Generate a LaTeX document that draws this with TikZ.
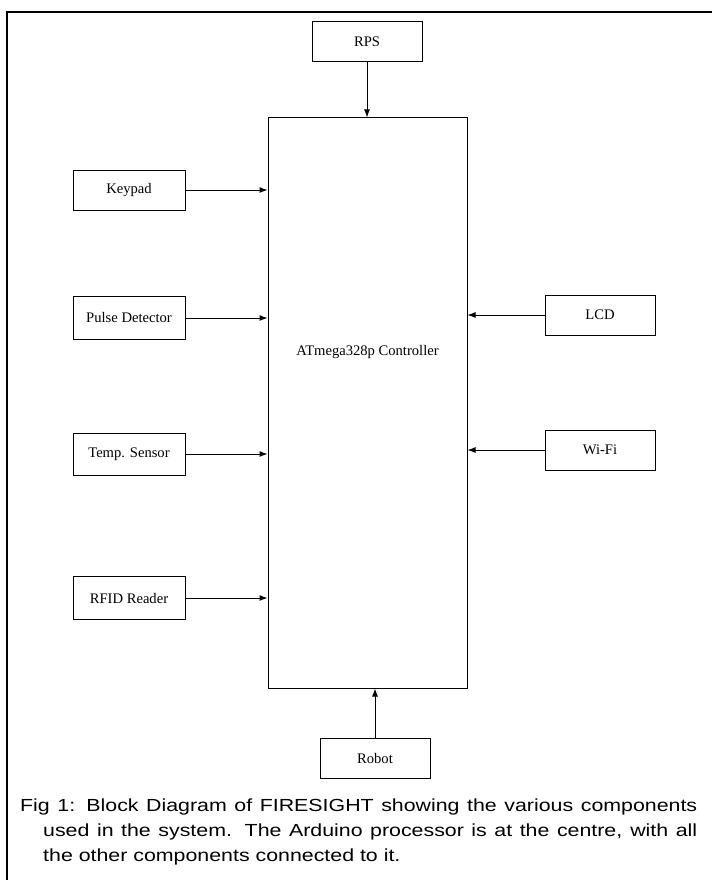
\documentclass[tikz,border=0pt]{standalone}
\usepackage{fontspec}
\setmainfont{Liberation Serif}
\newfontfamily\capfont[FakeStretch=1.22]{Liberation Sans}
\usetikzlibrary{arrows.meta}

\tikzset{
  block/.style={draw, line width=1pt, minimum width=110pt, minimum height=40pt, inner sep=0pt, font=\fontsize{14.6}{16}\selectfont},
  link/.style={-{Latex[length=8pt,width=6pt]}, line width=1pt},
}

\begin{document}
\begin{tikzpicture}[x=1pt, y=-1pt]
\useasboundingbox (0,0) rectangle (712,880);
% frame
\draw[line width=2pt] (7,880) -- (7,12) -- (712,12);

\node[block, minimum width=199pt, minimum height=570pt] (ctl) at (367.5,403){};
\node[font=\fontsize{14.6}{16}\selectfont] (ctltext) at (367.5,352){ATmega328p Controller};

\node[block] (rps) at (367,42){RPS};
\node[block, minimum width=112pt] (key) at (129,190){Keypad};
\node[block, minimum width=112pt, minimum height=43pt] (pulse) at (129,318){Pulse Detector};
\node[block, minimum width=112pt, minimum height=42pt] (temp) at (129,454){Temp. Sensor};
\node[block, minimum width=112pt, minimum height=43pt] (rfid) at (129,598){RFID Reader};
\node[block] (lcd) at (600,315){LCD};
\node[block] (wifi) at (600,450){Wi-Fi};
\node[block] (robot) at (375,758){Robot};

\draw[link] (rps) -- (rps |- ctl.north);
\draw[link] (key) -- (key -| ctl.west);
\draw[link] (pulse) -- (pulse -| ctl.west);
\draw[link] (temp) -- (temp -| ctl.west);
\draw[link] (rfid) -- (rfid -| ctl.west);
\draw[link] (lcd) -- (lcd -| ctl.east);
\draw[link] (wifi) -- (wifi -| ctl.east);
\draw[link] (robot) -- (robot |- ctl.south);

\node[anchor=north west, inner sep=0pt] (cap) at (20,799)
  {\begin{minipage}{677pt}\capfont\fontsize{17.5}{25}\selectfont
  \hangindent=23pt\hangafter=1 Fig 1: Block Diagram of FIRESIGHT showing the various components used in the system. The Arduino processor is at the centre, with all the other components connected to it.\end{minipage}};
\end{tikzpicture}
\end{document}
